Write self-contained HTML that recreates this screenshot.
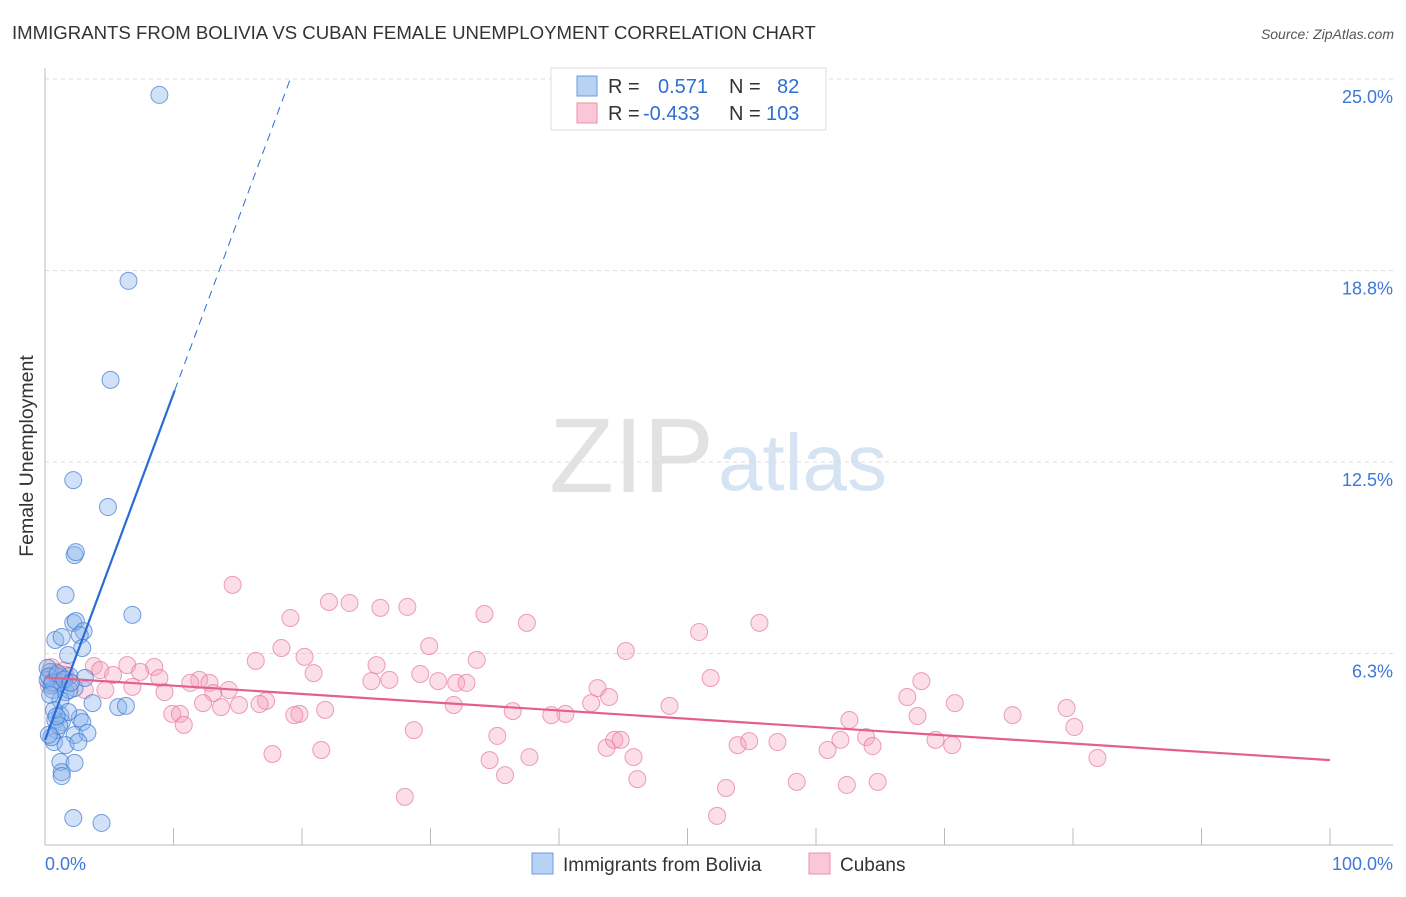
<!DOCTYPE html>
<html><head><meta charset="utf-8"><style>
body{margin:0;background:#fff;font-family:"Liberation Sans",sans-serif}
svg text{font-family:"Liberation Sans",sans-serif}
</style></head><body>
<svg id="c" width="1406" height="892">
<text x="12" y="39" font-size="18.6" fill="#333">IMMIGRANTS FROM BOLIVIA VS CUBAN FEMALE UNEMPLOYMENT CORRELATION CHART</text>
<text x="1394" y="39" font-size="14" fill="#555" font-style="italic" text-anchor="end">Source: ZipAtlas.com</text>
<text x="714" y="492" font-size="106" fill="#e2e2e2" text-anchor="end" font-family="Liberation Serif">ZIP</text>
<text x="718" y="490" font-size="80" fill="#d5e3f3">atlas</text>
<text transform="translate(33,456) rotate(-90)" font-size="19.5" fill="#333" text-anchor="middle">Female Unemployment</text>
<g id="grid"></g><g id="pts"></g><g id="lines"></g>
<g>
<rect x="551" y="68" width="275" height="62" fill="#fff" stroke="#ddd"/>
<rect x="577" y="76" width="20" height="20" fill="#b8d2f4" stroke="#6a9be0"/>
<rect x="577" y="103" width="20" height="20" fill="#f9c7d6" stroke="#ea8fab"/>
<text x="608" y="93" font-size="20" fill="#333">R = <tspan fill="#2f6fd3" x="658">0.571</tspan><tspan x="729" fill="#333">N = </tspan><tspan x="777" fill="#2f6fd3">82</tspan></text>
<text x="608" y="120" font-size="20" fill="#333">R = <tspan fill="#2f6fd3" x="643">-0.433</tspan><tspan x="729" fill="#333">N = </tspan><tspan x="766" fill="#2f6fd3">103</tspan></text>
</g>
<g>
<rect x="532" y="853" width="21" height="21" fill="#b8d2f4" stroke="#6a9be0"/>
<text x="563" y="871" font-size="19" fill="#333">Immigrants from Bolivia</text>
<rect x="809" y="853" width="21" height="21" fill="#f9c7d6" stroke="#ea8fab"/>
<text x="840" y="871" font-size="19" fill="#333">Cubans</text>
</g>
</svg>
<script>
const yTicks=[25.0,18.75,12.5,6.25];
const yTickLabels=["25.0%","18.8%","12.5%","6.3%"];
const xTickLabels=["0.0%","100.0%"];
const blueX=[8.9,6.5,5.1,2.2,4.9,2.3,2.4,1.6,6.8,2.2,2.4,3.0,2.7,0.8,1.3,2.9,1.8,0.4,0.2,0.5,0.9,1.3,1.9,2.3,3.1,0.2,0.6,1.6,1.9,1.2,3.7,5.7,6.3,0.8,1.2,1.3,2.7,1.8,2.9,0.9,2.3,3.3,0.7,1.6,2.6,0.5,1.2,2.3,1.3,1.3,2.2,4.4,0.3,0.6,1.0,1.5,2.0,0.4,0.7,1.1,0.3,0.9];
const blueY=[24.48,18.41,15.18,11.91,11.03,9.46,9.56,8.16,7.51,7.25,7.31,6.98,6.85,6.69,6.79,6.43,6.2,5.65,5.39,5.22,5.52,5.32,5.52,5.12,5.45,5.78,5.06,4.99,5.06,4.73,4.63,4.5,4.54,4.08,4.24,4.01,4.14,4.34,4.01,3.75,3.59,3.66,3.36,3.26,3.36,3.52,2.71,2.68,2.38,2.25,0.88,0.72,5.5,5.3,5.6,5.4,5.3,4.9,4.4,3.9,3.6,4.2];
const pinkX=[14.6,19.1,22.1,23.7,26.1,28.2,34.2,37.5,50.9,55.6,29.9,45.2,18.4,20.2,16.4,25.8,33.6,20.9,29.2,26.8,25.4,30.6,32.0,32.8,3.8,6.4,8.5,4.3,7.4,8.9,12.0,12.8,14.3,11.3,13.1,9.3,4.7,6.8,5.3,3.1,1.6,0.8,43.0,43.9,51.8,68.2,67.1,70.8,79.5,75.3,80.1,81.9,67.9,62.6,63.9,64.4,61.9,60.9,69.3,70.6,53.9,54.8,57.0,48.6,40.5,36.4,31.8,21.8,19.8,19.4,17.2,16.7,15.1,13.7,12.3,9.9,10.5,10.8,28.7,35.2,34.6,35.8,37.7,45.8,46.1,43.7,44.3,44.8,17.7,21.5,28.0,52.3,53.0,58.5,62.4,64.8,42.5,39.4,0.5,1.2,2.0,0.3,1.5];
const pinkY=[8.49,7.41,7.93,7.9,7.74,7.77,7.54,7.25,6.95,7.25,6.49,6.33,6.43,6.14,6.01,5.87,6.04,5.61,5.58,5.39,5.35,5.35,5.29,5.29,5.84,5.87,5.81,5.71,5.65,5.45,5.39,5.29,5.06,5.29,4.96,4.99,5.06,5.16,5.55,5.06,5.55,5.65,5.12,4.83,5.45,5.35,4.83,4.63,4.47,4.24,3.85,2.84,4.21,4.08,3.52,3.23,3.43,3.1,3.43,3.26,3.26,3.39,3.36,4.54,4.28,4.37,4.57,4.41,4.28,4.24,4.7,4.6,4.57,4.5,4.63,4.28,4.28,3.92,3.75,3.56,2.77,2.28,2.87,2.87,2.15,3.17,3.43,3.43,2.97,3.1,1.57,0.95,1.86,2.06,1.96,2.06,4.63,4.24,5.8,5.5,5.3,5.2,5.7];
const blueLine=[3.43,1.13], pinkLine=[5.47,-0.027];
const sx=v=>45+v*12.85, sy=v=>845-v*30.64;
const NS="http://www.w3.org/2000/svg";
function mk(t,a,p){const e=document.createElementNS(NS,t);for(const k in a)e.setAttribute(k,a[k]);p.appendChild(e);return e;}
const grid=document.getElementById('grid');
yTicks.forEach((v,i)=>{
 const l=mk('line',{x1:45,x2:1393,y1:sy(v),y2:sy(v),stroke:'#ddd','stroke-dasharray':'4,4'},grid);
 
 
 const t=mk('text',{x:1393,y:sy(v)+24,'font-size':18,fill:'#3c78d8','text-anchor':'end'},grid);
 t.textContent=yTickLabels[i];
 
 
});
let ax=mk('line',{x1:45,x2:45,y1:68,y2:845,stroke:'#bbb'},grid);


ax=mk('line',{x1:45,x2:1393,y1:845,y2:845,stroke:'#bbb'},grid);


for(let i=1;i<=10;i++){const tk=mk('line',{x1:sx(i*10),x2:sx(i*10),y1:828,y2:845,stroke:'#bbb'},grid);
 
 }
[[0,'start',45],[1,'end',1393]].forEach(([i,a,x])=>{const t=mk('text',{x:x,y:870,'font-size':18,fill:'#3c78d8','text-anchor':a},grid);t.textContent=xTickLabels[i];
 
 });
const pts=document.getElementById('pts');
pinkX.forEach((x,i)=>{const c=mk('circle',{cx:sx(x),cy:sy(pinkY[i]),r:8.5,fill:'rgba(244,160,188,0.35)',stroke:'rgba(230,120,155,0.7)','stroke-width':1},pts);
 
 });
blueX.forEach((x,i)=>{const c=mk('circle',{cx:sx(x),cy:sy(blueY[i]),r:8.5,fill:'rgba(140,180,235,0.4)',stroke:'rgba(60,120,210,0.7)','stroke-width':1},pts);
 
 });
const L=document.getElementById('lines');
let ln=mk('line',{x1:sx(0),y1:sy(blueLine[0]),x2:sx(10.1),y2:sy(blueLine[0]+blueLine[1]*10.1),stroke:'#2a6bd6','stroke-width':2.2},L);


const xe=(25-blueLine[0])/blueLine[1];
ln=mk('line',{x1:sx(10.1),y1:sy(blueLine[0]+blueLine[1]*10.1),x2:sx(xe),y2:sy(25),stroke:'#2a6bd6','stroke-width':1,'stroke-dasharray':'8,6'},L);


ln=mk('line',{x1:sx(0),y1:sy(pinkLine[0]),x2:sx(100),y2:sy(pinkLine[0]+pinkLine[1]*100),stroke:'#e4608c','stroke-width':2.2},L);


</script>
</body></html>
